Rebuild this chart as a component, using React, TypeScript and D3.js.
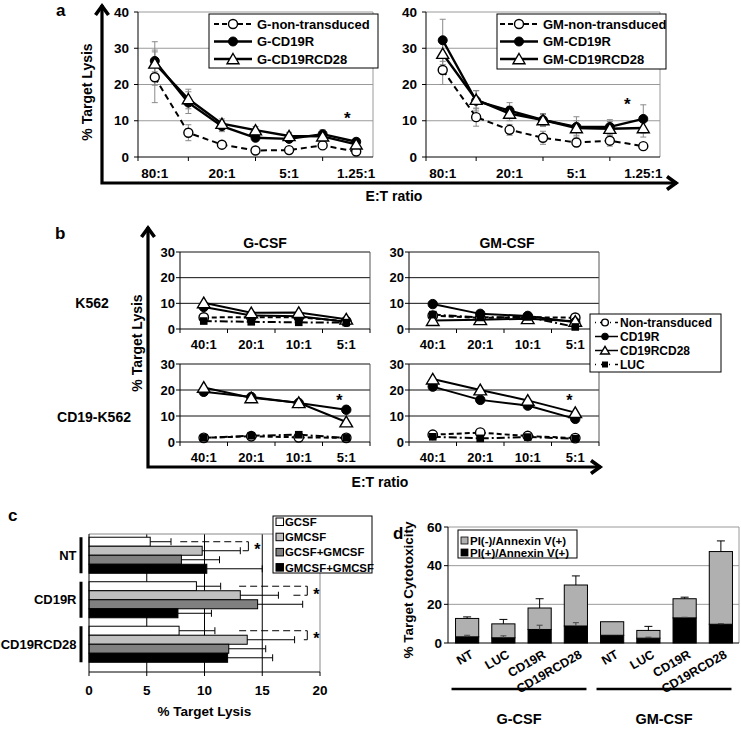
import React from 'react';
import * as d3 from 'd3';

const FONT = '"Liberation Sans", Arial, Helvetica, sans-serif';

// ---------------- Panel a data ----------------
const ratiosA = ['80:1', '40:1', '20:1', '10:1', '5:1', '2.5:1', '1.25:1'];
const shownRatiosA = ['80:1', '20:1', '5:1', '1.25:1'];
const yTicksA = [0, 10, 20, 30, 40];
const namesAG = ['G-non-transduced', 'G-CD19R', 'G-CD19RCD28'];
const namesAGM = ['GM-non-transduced', 'GM-CD19R', 'GM-CD19RCD28'];
const gNonTransduced = [22, 6.7, 3.4, 1.8, 1.9, 3.2, 1.5];
const gNonTransducedErr = [7, 2.2, 0.8, 0.5, 0.5, 0.8, 0.5];
const gCD19R = [26.5, 15, 8.5, 5.3, 5.0, 6.3, 4.2];
const gCD19RErr = [3, 3, 1.5, 1, 1, 1.2, 0.8];
const gCD19RCD28 = [25.8, 16, 9.2, 7.4, 5.8, 5.7, 3.5];
const gCD19RCD28Err = [6, 2.7, 1.3, 1, 1, 1.2, 0.8];
const gmNonTransduced = [24, 11, 7.5, 5.3, 4, 4.5, 3];
const gmNonTransducedErr = [4, 2.5, 1.5, 1.8, 1, 1.5, 1];
const gmCD19R = [32.2, 15.5, 12.8, 10.2, 8.3, 8.3, 10.5];
const gmCD19RErr = [5.8, 2.8, 2.2, 1.8, 2.8, 2, 3.9];
const gmCD19RCD28 = [28.5, 15.8, 12, 10.2, 8.0, 7.8, 8.0];
const gmCD19RCD28Err = [3, 2.5, 2, 1.5, 2, 2, 2.5];

// ---------------- Panel b data ----------------
const ratiosB = ['40:1', '20:1', '10:1', '5:1'];
const yTicksB = [0, 10, 20, 30];
const namesB = ['Non-transduced', 'CD19R', 'CD19RCD28', 'LUC'];
const gK562NT = [4.5, 4.6, 4.6, 3.0];
const gK562CD19R = [8.6, 5.3, 5.0, 2.8];
const gK562CD19RCD28 = [10.2, 6.3, 6.4, 3.8];
const gK562LUC = [3.1, 2.8, 2.6, 2.5];
const gCD19K562NT = [1.6, 2.2, 1.8, 1.6];
const gCD19K562CD19R = [19.3, 17.3, 15.0, 12.4];
const gCD19K562CD19RCD28 = [21.0, 17.0, 15.1, 7.7];
const gCD19K562LUC = [1.6, 2.4, 2.8, 1.6];
const gmK562NT = [5.2, 4.3, 4.6, 4.4];
const gmK562CD19R = [9.7, 5.9, 5.1, 2.6];
const gmK562CD19RCD28 = [3.3, 3.6, 4.0, 3.0];
const gmK562LUC = [5.6, 4.5, 4.7, 0.8];
const gmCD19K562NT = [2.8, 3.6, 2.3, 1.5];
const gmCD19K562CD19R = [21.3, 16.2, 14.0, 8.9];
const gmCD19K562CD19RCD28 = [24.2, 20.0, 16.0, 11.3];
const gmCD19K562LUC = [2.0, 1.4, 1.9, 1.3];

// ---------------- Panel c data ----------------
const cGroups = ['NT', 'CD19R', 'CD19RCD28'];
const cSeries = ['GCSF', 'GMCSF', 'GCSF+GMCSF', 'GMCSF+GMCSF'];
const cGCSF = [5.3, 9.3, 7.8];
const cGCSFErr = [1.8, 2.1, 3.1];
const cGMCSF = [9.8, 13.1, 13.7];
const cGMCSFErr = [3.3, 3.3, 4.1];
const cGCSFGMCSF = [8.0, 14.6, 12.1];
const cGCSFGMCSFErr = [3.3, 3.9, 3.2];
const cGMCSFGMCSF = [10.2, 7.7, 12.0];
const cGMCSFGMCSFErr = [4.8, 2.9, 3.9];
const cBracketStart = [7.9, 13.0, 13.0];
const cBracketEnd = [13.8, 18.9, 18.9];
const cBracketLow = [13.3, 17.7, 18.6];
const xTicksC = [0, 5, 10, 15, 20];

// ---------------- Panel d data ----------------
const dCats = ['NT', 'LUC', 'CD19R', 'CD19RCD28', 'NT', 'LUC', 'CD19R', 'CD19RCD28'];
const dGroups = ['G-CSF', 'GM-CSF'];
const dPIposAnnexin = [3.2, 2.7, 7.0, 8.8, 4.0, 2.5, 13.0, 9.7];
const dPIposErr = [0.8, 1.0, 2.2, 1.7, 0, 0.5, 0.3, 0.3];
const dPInegAnnexin = [9.5, 7.2, 11.1, 21.2, 7.0, 4.0, 9.9, 37.6];
const dTotalErr = [0.8, 2.3, 4.8, 4.7, 0, 2.1, 0.8, 5.5];
const dLegend = ['PI(-)/Annexin V(+)', 'PI(+)/Annexin V(+)'];
const yTicksD = [0, 20, 40, 60];

type MarkerType = 'open' | 'filled' | 'triangle' | 'square';

function Marker({ type, x, y, s = 1 }: { type: MarkerType; x: number; y: number; s?: number }) {
  if (type === 'open') return <circle cx={x} cy={y} r={4.5 * s} fill="#fff" stroke="#000" strokeWidth={1.4} />;
  if (type === 'filled') return <circle cx={x} cy={y} r={4.5 * s} fill="#000" stroke="#000" strokeWidth={1} />;
  if (type === 'square') return <rect x={x - 4 * s} y={y - 4 * s} width={8 * s} height={8 * s} fill="#000" />;
  const w = 6 * s, h = 5.5 * s;
  return <path d={`M${x},${y - h}L${x + w},${y + h * 0.85}L${x - w},${y + h * 0.85}Z`} fill="#fff" stroke="#000" strokeWidth={1.4} />;
}

const markersA: MarkerType[] = ['open', 'filled', 'triangle'];
const dashesA = ['6,4', undefined, undefined];

function PanelASub(props: {
  left: number; right: number; top: number; bottom: number;
  vals: number[][]; errs: number[][]; names: string[];
  legend: { x: number; y: number; w: number; h: number; sx: number };
  star: { cat: string; v: number; dx: number };
}) {
  const { left, right, top, bottom, vals, errs, names, legend, star } = props;
  const x = d3.scaleBand().domain(ratiosA).range([left, right]);
  const y = d3.scaleLinear().domain([0, 40]).range([bottom, top]);
  const cx = (c: string) => (x(c) as number) + x.bandwidth() / 2;
  const line = d3.line<number>().x((_, i) => cx(ratiosA[i])).y((d) => y(d));
  return (
    <g>
      {yTicksA.filter((t) => t > 0).map((t) => (
        <line key={t} x1={left} x2={right} y1={y(t)} y2={y(t)} stroke="#9a9a9a" strokeWidth={1} />
      ))}
      <line x1={right} x2={right} y1={y(40)} y2={y(0)} stroke="#9a9a9a" />
      <line x1={left} x2={left} y1={y(40)} y2={y(0)} stroke="#000" />
      <line x1={left} x2={right} y1={y(0)} y2={y(0)} stroke="#000" />
      {yTicksA.map((t) => (
        <g key={t}>
          <line x1={left - 4} x2={left} y1={y(t)} y2={y(t)} stroke="#000" />
          <text x={left - 9} y={y(t)} dy="0.35em" textAnchor="end" fontSize={13.5}>{t}</text>
        </g>
      ))}
      <line x1={left} x2={left} y1={y(0)} y2={y(0) + 4} stroke="#000" />
      {ratiosA.filter((c) => !shownRatiosA.includes(c)).map((c) => (
        <line key={c} x1={cx(c)} x2={cx(c)} y1={y(0)} y2={y(0) + 4} stroke="#000" />
      ))}
      {shownRatiosA.map((c) => (
        <text key={c} x={cx(c)} y={y(0) + 21} textAnchor="middle" fontSize={13.5}>{c}</text>
      ))}
      {vals.map((s, si) =>
        s.map((v, i) => {
          const e = errs[si][i];
          const px = cx(ratiosA[i]);
          return (
            <g key={`${si}-${i}`} stroke="#8a8a8a" strokeWidth={1}>
              <line x1={px} x2={px} y1={y(v - e)} y2={y(v + e)} />
              <line x1={px - 3} x2={px + 3} y1={y(v - e)} y2={y(v - e)} />
              <line x1={px - 3} x2={px + 3} y1={y(v + e)} y2={y(v + e)} />
            </g>
          );
        })
      )}
      {vals.map((s, si) => (
        <path key={si} d={line(s) || ''} fill="none" stroke="#000" strokeWidth={si === 0 ? 2 : 2.4} strokeDasharray={dashesA[si]} />
      ))}
      {vals.map((s, si) => s.map((v, i) => <Marker key={`${si}-${i}`} type={markersA[si]} x={cx(ratiosA[i])} y={y(v)} />))}
      <text x={cx(star.cat) + star.dx} y={y(star.v) + 9} textAnchor="middle" fontSize={17}>*</text>
      <rect x={legend.x} y={legend.y} width={legend.w} height={legend.h} fill="#fff" stroke="#000" strokeWidth={1} />
      {names.map((n, i) => {
        const ry = legend.y + 10 + i * 17.5;
        return (
          <g key={n}>
            <line x1={legend.sx} x2={legend.sx + 38} y1={ry} y2={ry} stroke="#000" strokeWidth={i === 0 ? 2 : 2.4} strokeDasharray={i === 0 ? '5,3' : undefined} />
            <Marker type={markersA[i]} x={legend.sx + 19} y={ry} />
            <text x={legend.sx + 43} y={ry} dy="0.35em" fontSize={13}>{n}</text>
          </g>
        );
      })}
    </g>
  );
}

const markersB: MarkerType[] = ['open', 'filled', 'triangle', 'square'];
const dashesB = ['5,3', undefined, undefined, '8,3,2,3'];

function PanelBSub(props: {
  left: number; right: number; top: number; bottom: number; vals: number[][];
  star?: { cat: string; v: number; dx: number };
}) {
  const { left, right, top, bottom, vals, star } = props;
  const x = d3.scaleBand().domain(ratiosB).range([left, right]);
  const y = d3.scaleLinear().domain([0, 30]).range([bottom, top]);
  const cx = (c: string) => (x(c) as number) + x.bandwidth() / 2;
  const line = d3.line<number>().x((_, i) => cx(ratiosB[i])).y((d) => y(d));
  return (
    <g>
      {yTicksB.filter((t) => t > 0).map((t) => (
        <line key={t} x1={left} x2={right} y1={y(t)} y2={y(t)} stroke="#111" strokeWidth={1} />
      ))}
      <line x1={right} x2={right} y1={y(30)} y2={y(0)} stroke="#555" />
      <line x1={left} x2={left} y1={y(30)} y2={y(0)} stroke="#000" />
      <line x1={left} x2={right} y1={y(0)} y2={y(0)} stroke="#000" />
      {yTicksB.map((t) => (
        <g key={t}>
          <line x1={left - 4} x2={left} y1={y(t)} y2={y(t)} stroke="#000" />
          <text x={left - 5} y={y(t)} dy="0.35em" textAnchor="end" fontSize={13}>{t}</text>
        </g>
      ))}
      {ratiosB.map((c) => (
        <line key={c} x1={x(c) as number} x2={x(c) as number} y1={y(0)} y2={y(0) + 4} stroke="#000" />
      ))}
      <line x1={right} x2={right} y1={y(0)} y2={y(0) + 4} stroke="#000" />
      {ratiosB.map((c) => (
        <text key={c} x={cx(c)} y={y(0) + 20} textAnchor="middle" fontSize={13}>{c}</text>
      ))}
      {vals.map((s, si) => (
        <path key={si} d={line(s) || ''} fill="none" stroke="#000" strokeWidth={2} strokeDasharray={dashesB[si]} />
      ))}
      {vals.map((s, si) => s.map((v, i) => <Marker key={`${si}-${i}`} type={markersB[si]} x={cx(ratiosB[i])} y={y(v)} s={si === 3 ? 0.95 : 1.05} />))}
      {star && <text x={cx(star.cat) + star.dx} y={y(star.v) + 9} textAnchor="middle" fontSize={16}>*</text>}
    </g>
  );
}

function Arrow({ x, y0, y1, x1 }: { x: number; y0: number; y1: number; x1: number }) {
  return (
    <g stroke="#000" fill="none" strokeWidth={3.2} strokeLinecap="butt">
      <path d={`M${x},${y1}V${y0}H${x1}`} />
      <path d={`M${x - 6.5},${y1 + 10}L${x},${y1 + 1}L${x + 6.5},${y1 + 10}`} strokeWidth={3.6} />
      <path d={`M${x1 - 10},${y0 - 6.5}L${x1 - 1},${y0}L${x1 - 10},${y0 + 6.5}`} strokeWidth={3.6} />
    </g>
  );
}

function PanelC() {
  const left = 89, right = 320, top = 534, bottom = 672;
  const x = d3.scaleLinear().domain([0, 20]).range([left, right]);
  const g = d3.scaleBand().domain(cGroups).range([533, 666.5]).paddingInner(0.19).paddingOuter(0.095);
  const inner = d3.scaleBand().domain(cSeries).range([0, g.bandwidth()]);
  const vals = [cGCSF, cGMCSF, cGCSFGMCSF, cGMCSFGMCSF];
  const errs = [cGCSFErr, cGMCSFErr, cGCSFGMCSFErr, cGMCSFGMCSFErr];
  const colors = ['#ffffff', '#c0c0c0', '#808080', '#000000'];
  return (
    <g>
      <text x={8} y={521} fontSize={17}>c</text>
      {xTicksC.filter((t) => t > 0 && t < 20).map((t) => (
        <line key={t} x1={x(t)} x2={x(t)} y1={top} y2={bottom} stroke="#000" />
      ))}
      <line x1={left} x2={right} y1={top} y2={top} stroke="#888" />
      <line x1={right} x2={right} y1={top} y2={bottom} stroke="#888" />
      {cGroups.map((grp, gi) =>
        cSeries.map((s, si) => {
          const by = (g(grp) as number) + (inner(s) as number);
          const h = inner.bandwidth();
          const v = vals[si][gi];
          const e = errs[si][gi];
          return (
            <g key={`${grp}-${s}`}>
              <rect x={x(0)} y={by} width={x(v) - x(0)} height={h} fill={colors[si]} stroke="#000" strokeWidth={1} />
              <line x1={x(v)} x2={x(v + e)} y1={by + h / 2} y2={by + h / 2} stroke="#000" />
              <line x1={x(v + e)} x2={x(v + e)} y1={by + h / 2 - 3.5} y2={by + h / 2 + 3.5} stroke="#000" />
            </g>
          );
        })
      )}
      <line x1={left} x2={left} y1={top} y2={bottom} stroke="#000" />
      <line x1={left} x2={right} y1={bottom} y2={bottom} stroke="#000" />
      {xTicksC.map((t) => (
        <g key={t}>
          <line x1={x(t)} x2={x(t)} y1={bottom} y2={bottom + 4} stroke="#000" />
          <text x={x(t)} y={bottom + 23} textAnchor="middle" fontSize={13.5}>{t}</text>
        </g>
      ))}
      <text x={(left + right) / 2} y={716} textAnchor="middle" fontSize={13.5}>% Target Lysis</text>
      {cGroups.map((grp, gi) => {
        const y0 = g(grp) as number;
        const yTopB = y0 + (inner('GCSF') as number) + inner.bandwidth() / 2;
        const yLowB = y0 + (inner('GMCSF') as number) + inner.bandwidth() / 2;
        const xr = x(cBracketEnd[gi]);
        return (
          <g key={grp}>
            <line x1={81} x2={81} y1={y0} y2={y0 + g.bandwidth()} stroke="#000" strokeWidth={3} />
            <text x={76.5} y={y0 + g.bandwidth() / 2} dy="0.35em" textAnchor="end" fontSize={13}>{grp}</text>
            <line x1={x(cBracketStart[gi])} x2={xr} y1={yTopB} y2={yTopB} stroke="#000" strokeDasharray="7,4" />
            <line x1={xr} x2={xr} y1={yTopB} y2={yLowB} stroke="#000" />
            <line x1={x(cBracketLow[gi])} x2={xr} y1={yLowB} y2={yLowB} stroke="#000" strokeDasharray="7,4" />
            <text x={xr + 9} y={(yTopB + yLowB) / 2 + 9} textAnchor="middle" fontSize={16}>*</text>
          </g>
        );
      })}
      <rect x={273} y={516} width={99} height={57} fill="#fff" stroke="#000" />
      {cSeries.map((s, i) => (
        <g key={s}>
          <rect x={276} y={518 + i * 15.2} width={7.5} height={7.5} fill={colors[i]} stroke="#000" strokeWidth={1} />
          <text x={285} y={522 + i * 15.2} dy="0.35em" fontSize={11.4}>{s}</text>
        </g>
      ))}
    </g>
  );
}

function PanelD() {
  const left = 448, right = 739, top = 527, bottom = 643;
  const idx = dCats.map((_, i) => String(i));
  const x = d3.scaleBand().domain(idx).range([449, 739]).paddingInner(0.36).paddingOuter(0.18);
  const y = d3.scaleLinear().domain([0, 60]).range([bottom, top]);
  const table = dCats.map((c, i) => ({ key: String(i), pos: dPIposAnnexin[i], neg: dPInegAnnexin[i] }));
  const stack = d3.stack<any>().keys(['pos', 'neg'])(table);
  const colors = ['#000000', '#b0b0b0'];
  const groupSpans = [[0, 3], [4, 7]];
  return (
    <g>
      <text x={393} y={539} fontSize={17}>d</text>
      {yTicksD.filter((t) => t > 0).map((t) => (
        <line key={t} x1={left} x2={right} y1={y(t)} y2={y(t)} stroke="#9a9a9a" />
      ))}
      <line x1={right} x2={right} y1={top} y2={bottom} stroke="#9a9a9a" />
      {stack.map((layer, li) =>
        layer.map((d, i) => (
          <rect key={`${li}-${i}`} x={x(String(i)) as number} y={y(d[1])} width={x.bandwidth()} height={y(d[0]) - y(d[1])} fill={colors[li]} stroke="#000" strokeWidth={1} />
        ))
      )}
      {dCats.map((_, i) => {
        const cx = (x(String(i)) as number) + x.bandwidth() / 2;
        const tp = dPIposAnnexin[i];
        const tt = dPIposAnnexin[i] + dPInegAnnexin[i];
        return (
          <g key={i} stroke="#000">
            {dPIposErr[i] > 0 && (
              <g stroke="#444">
                <line x1={cx} x2={cx} y1={y(tp)} y2={y(tp + dPIposErr[i])} />
                <line x1={cx - 3} x2={cx + 3} y1={y(tp + dPIposErr[i])} y2={y(tp + dPIposErr[i])} />
              </g>
            )}
            {dTotalErr[i] > 0 && (
              <g>
                <line x1={cx} x2={cx} y1={y(tt)} y2={y(tt + dTotalErr[i])} />
                <line x1={cx - 4} x2={cx + 4} y1={y(tt + dTotalErr[i])} y2={y(tt + dTotalErr[i])} />
              </g>
            )}
          </g>
        );
      })}
      <line x1={left} x2={left} y1={top} y2={bottom} stroke="#000" />
      <line x1={left} x2={right} y1={bottom} y2={bottom} stroke="#000" />
      {yTicksD.map((t) => (
        <g key={t}>
          <line x1={left - 4} x2={left} y1={y(t)} y2={y(t)} stroke="#000" />
          <text x={left - 6} y={y(t)} dy="0.35em" textAnchor="end" fontSize={13.5}>{t}</text>
        </g>
      ))}
      {dCats.map((c, i) => {
        const cx = (x(String(i)) as number) + x.bandwidth() / 2;
        return (
          <text key={i} transform={`translate(${cx + 7},${bottom + 14}) rotate(-30)`} textAnchor="end" fontSize={12.5}>{c}</text>
        );
      })}
      {groupSpans.map(([a, b], gi) => {
        const x0 = (x(String(a)) as number) - 4;
        const x1 = (x(String(b)) as number) + x.bandwidth() - 1;
        return (
          <g key={gi}>
            <line x1={x0} x2={x1} y1={689} y2={689} stroke="#000" strokeWidth={2.5} />
            <text x={(x0 + x1) / 2} y={724} textAnchor="middle" fontSize={14.5}>{dGroups[gi]}</text>
          </g>
        );
      })}
      <text transform={`translate(413,${590}) rotate(-90)`} textAnchor="middle" fontSize={13.5}>% Target Cytotoxicity</text>
      <rect x={458} y={530} width={119} height={28} fill="#fff" stroke="#000" />
      {dLegend.map((n, i) => (
        <g key={n}>
          <rect x={461} y={537 + i * 12} width={7} height={7} fill={i === 0 ? colors[1] : colors[0]} stroke="#000" strokeWidth={0.8} />
          <text x={470} y={541 + i * 12} dy="0.35em" fontSize={11.5}>{n}</text>
        </g>
      ))}
    </g>
  );
}

function PanelBLegend() {
  const x0 = 590, y0 = 314;
  return (
    <g>
      <rect x={x0} y={y0} width={131} height={58} fill="#fff" stroke="#000" />
      {namesB.map((n, i) => {
        const ry = y0 + 8.5 + i * 14;
        return (
          <g key={n}>
            <line x1={x0 + 5} x2={x0 + 28} y1={ry} y2={ry} stroke="#000" strokeWidth={1.5} strokeDasharray={i === 0 ? '1,4,7,3' : i === 3 ? '1,5,5,3' : undefined} />
            <Marker type={markersB[i]} x={x0 + 15} y={ry} s={0.75} />
            <text x={x0 + 30} y={ry} dy="0.35em" fontSize={12}>{n}</text>
          </g>
        );
      })}
    </g>
  );
}

export default function App() {
  return (
    <svg width={741} height={730} style={{ position: 'absolute', left: 0, top: 0 }} fontFamily={FONT} fontWeight="bold">
      <rect width={741} height={730} fill="#fff" />
      {/* Panel a */}
      <text x={56} y={16} fontSize={17}>a</text>
      <Arrow x={102} y0={183} y1={5} x1={677} />
      <text transform="translate(92,92) rotate(-90)" textAnchor="middle" fontSize={14}>% Target Lysis</text>
      <text x={394} y={201} textAnchor="middle" fontSize={14}>E:T ratio</text>
      <PanelASub
        left={138} right={373} top={12} bottom={157}
        vals={[gNonTransduced, gCD19R, gCD19RCD28]}
        errs={[gNonTransducedErr, gCD19RErr, gCD19RCD28Err]}
        names={namesAG}
        legend={{ x: 209, y: 14, w: 169, h: 54, sx: 214 }}
        star={{ cat: '1.25:1', v: 11.5, dx: -9 }}
      />
      <PanelASub
        left={426} right={660} top={12} bottom={157}
        vals={[gmNonTransduced, gmCD19R, gmCD19RCD28]}
        errs={[gmNonTransducedErr, gmCD19RErr, gmCD19RCD28Err]}
        names={namesAGM}
        legend={{ x: 497, y: 14, w: 169, h: 55, sx: 500 }}
        star={{ cat: '1.25:1', v: 15.4, dx: -16 }}
      />
      {/* Panel b */}
      <text x={55} y={239} fontSize={17}>b</text>
      <Arrow x={148} y0={467} y1={227} x1={601} />
      <text transform="translate(142,343) rotate(-90)" textAnchor="middle" fontSize={14}>% Target Lysis</text>
      <text x={380} y={487} textAnchor="middle" fontSize={14}>E:T ratio</text>
      <text x={265} y={248} textAnchor="middle" fontSize={14}>G-CSF</text>
      <text x={507} y={248} textAnchor="middle" fontSize={14}>GM-CSF</text>
      <text x={92} y={308} textAnchor="middle" fontSize={14}>K562</text>
      <text x={94} y={422} textAnchor="middle" fontSize={14}>CD19-K562</text>
      <PanelBSub left={180} right={370} top={252} bottom={329}
        vals={[gK562NT, gK562CD19R, gK562CD19RCD28, gK562LUC]} />
      <PanelBSub left={180} right={370} top={364} bottom={442}
        vals={[gCD19K562NT, gCD19K562CD19R, gCD19K562CD19RCD28, gCD19K562LUC]}
        star={{ cat: '5:1', v: 17.2, dx: -7 }} />
      <PanelBSub left={409} right={599} top={252} bottom={329}
        vals={[gmK562NT, gmK562CD19R, gmK562CD19RCD28, gmK562LUC]} />
      <PanelBSub left={409} right={599} top={364} bottom={442}
        vals={[gmCD19K562NT, gmCD19K562CD19R, gmCD19K562CD19RCD28, gmCD19K562LUC]}
        star={{ cat: '5:1', v: 17.2, dx: -6 }} />
      <PanelBLegend />
      <PanelC />
      <PanelD />
    </svg>
  );
}
